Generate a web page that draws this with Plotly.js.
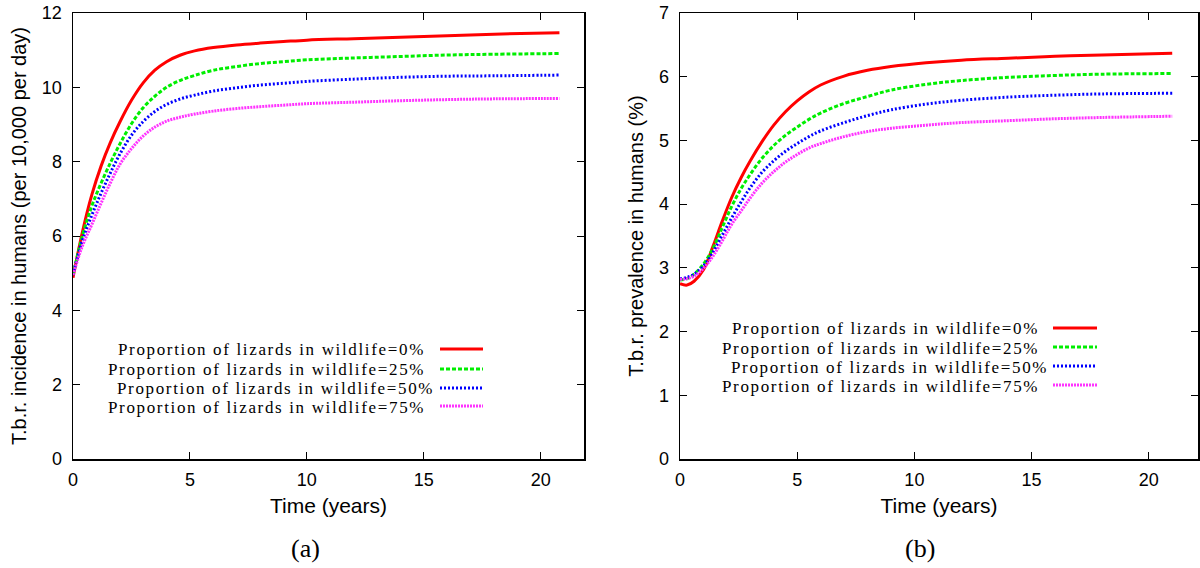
<!DOCTYPE html>
<html>
<head>
<meta charset="utf-8">
<script src="https://cdn.plot.ly/plotly-3.0.1.min.js"></script>
<style>
  html, body { margin: 0; padding: 0; background: #fff; }
  #chart { width: 1200px; height: 568px; }
  /* the serif key text is set a little wider, like the original typesetting */
  text.annotation-text { letter-spacing: 1.65px; }
</style>
</head>
<body>
<div id="chart"></div>
<script>
// Panel (a): tick-borne relapsing fever incidence in humans
const timeA = [0, 0.4, 0.8, 1.2, 1.6, 2.0, 2.5, 3.0, 3.5, 4.0, 4.6, 5.2, 6, 7, 8, 9, 10, 12, 14, 16, 18, 20.8];
const incidence0  = [4.88, 6.10, 7.10, 7.88, 8.52, 9.06, 9.65, 10.12, 10.46, 10.69, 10.87, 10.98, 11.07, 11.14, 11.19, 11.23, 11.27, 11.31, 11.35, 11.39, 11.43, 11.47];
const incidence25 = [4.95, 6.00, 6.80, 7.42, 7.97, 8.47, 9.02, 9.45, 9.76, 10.00, 10.19, 10.32, 10.46, 10.56, 10.64, 10.69, 10.74, 10.79, 10.83, 10.87, 10.89, 10.91];
const incidence50 = [4.95, 5.88, 6.55, 7.15, 7.70, 8.20, 8.71, 9.08, 9.35, 9.54, 9.69, 9.79, 9.90, 9.99, 10.06, 10.11, 10.16, 10.22, 10.27, 10.30, 10.31, 10.33];
const incidence75 = [4.95, 5.73, 6.30, 6.88, 7.43, 7.92, 8.35, 8.69, 8.93, 9.09, 9.20, 9.28, 9.36, 9.43, 9.48, 9.52, 9.56, 9.60, 9.64, 9.67, 9.69, 9.70];

// Panel (b): prevalence in humans (%)
const timeB = [0, 0.3, 0.6, 1.0, 1.4, 1.8, 2.2, 2.6, 3.0, 3.5, 4.0, 4.5, 5.0, 5.5, 6, 7, 8, 9, 10.5, 12, 14, 16, 18, 21];
const prevalence0  = [2.75, 2.73, 2.79, 2.97, 3.33, 3.73, 4.10, 4.41, 4.68, 4.98, 5.24, 5.45, 5.62, 5.76, 5.87, 6.01, 6.10, 6.16, 6.22, 6.26, 6.29, 6.32, 6.34, 6.37];
const prevalence25 = [2.81, 2.83, 2.90, 3.06, 3.30, 3.63, 3.96, 4.24, 4.47, 4.72, 4.92, 5.08, 5.21, 5.33, 5.43, 5.58, 5.69, 5.79, 5.88, 5.94, 5.99, 6.02, 6.04, 6.05];
const prevalence50 = [2.83, 2.85, 2.90, 3.03, 3.24, 3.51, 3.78, 4.03, 4.26, 4.50, 4.68, 4.83, 4.95, 5.06, 5.15, 5.28, 5.39, 5.48, 5.57, 5.63, 5.68, 5.71, 5.73, 5.74];
const prevalence75 = [2.82, 2.83, 2.87, 2.99, 3.18, 3.42, 3.68, 3.89, 4.10, 4.33, 4.51, 4.66, 4.78, 4.88, 4.95, 5.06, 5.14, 5.19, 5.24, 5.28, 5.31, 5.34, 5.36, 5.38];

const legendLabels = [
  'Proportion of lizards in wildlife=0%',
  'Proportion of lizards in wildlife=25%',
  'Proportion of lizards in wildlife=50%',
  'Proportion of lizards in wildlife=75%'
];
const captions = ['(a)', '(b)'];
const xTickVals = [0, 5, 10, 15, 20];
const yTickValsA = [0, 2, 4, 6, 8, 10, 12];
const yTickValsB = [0, 1, 2, 3, 4, 5, 6, 7];

// line styles for the four scenarios
const styles = [
  { color: '#ff0000', dash: 'solid' },
  { color: '#00ee00', dash: '4px,2px' },
  { color: '#0000ff', dash: '2px,2px' },
  { color: '#ff33ff', dash: '2px,1px' }
];
const LW = 3;

const seriesA = [incidence0, incidence25, incidence50, incidence75];
const seriesB = [prevalence0, prevalence25, prevalence50, prevalence75];

const traces = [];
seriesA.forEach((ys, i) => traces.push({
  x: timeA, y: ys, xaxis: 'x', yaxis: 'y', type: 'scatter', mode: 'lines',
  name: legendLabels[i], showlegend: false,
  line: { color: styles[i].color, dash: styles[i].dash, width: LW, shape: 'spline', smoothing: 1 }
}));
seriesB.forEach((ys, i) => traces.push({
  x: timeB, y: ys, xaxis: 'x2', yaxis: 'y2', type: 'scatter', mode: 'lines',
  name: legendLabels[i], showlegend: false,
  line: { color: styles[i].color, dash: styles[i].dash, width: LW, shape: 'spline', smoothing: 1 }
}));

const W = 1200, H = 568;
const px = v => v / W;
const py = v => 1 - v / H;

const sans = '"Liberation Sans", Arial, sans-serif';
const tickFont = { family: sans, size: 18, color: '#000' };
const xTitleFont = { family: sans, size: 21, color: '#000' };
const yTitleFont = { family: sans, size: 20, color: '#000' };
const serif = '"Liberation Serif", "Times New Roman", serif';

function axisBase(extra) {
  return Object.assign({
    showgrid: false, zeroline: false, showline: true, mirror: 'ticks',
    linecolor: '#000', linewidth: 1.5, ticks: 'inside', ticklen: 7,
    tickwidth: 1, tickcolor: '#000', tickfont: tickFont, fixedrange: true
  }, extra);
}

// hand-built key: text right-aligned with the line sample to its right
const annotations = [];
const shapes = [];
function addKey(rows, sampleX0, sampleX1) {
  rows.forEach((r, i) => {
    annotations.push({
      xref: 'paper', yref: 'paper', x: px(r.tx), y: py(r.y),
      xanchor: 'right', yanchor: 'middle', showarrow: false,
      text: legendLabels[i], font: { family: serif, size: 17, color: '#000' }
    });
    shapes.push({
      type: 'line', xref: 'paper', yref: 'paper',
      x0: px(sampleX0), x1: px(sampleX1), y0: py(r.ly), y1: py(r.ly),
      line: { color: styles[i].color, width: LW, dash: styles[i].dash }
    });
  });
}
addKey([
  { tx: 427, y: 349, ly: 349 },
  { tx: 427, y: 369, ly: 369 },
  { tx: 436, y: 388, ly: 388 },
  { tx: 427, y: 407, ly: 406 }
], 440, 483);
addKey([
  { tx: 1041, y: 328, ly: 328 },
  { tx: 1041, y: 348, ly: 347 },
  { tx: 1050, y: 367, ly: 366 },
  { tx: 1041, y: 386, ly: 385 }
], 1053, 1097);

// sub-figure captions (normal letter spacing)
const captionFont = { family: serif, size: 26, color: '#000' };
[[305, captions[0]], [920, captions[1]]].forEach(([cx, label]) => annotations.push({
  xref: 'paper', yref: 'paper', x: px(cx), y: py(548), xanchor: 'center', yanchor: 'middle',
  showarrow: false, text: '<span style="letter-spacing:0px">' + label + '</span>', font: captionFont
}));

const layout = {
  width: W, height: H,
  margin: { l: 0, r: 0, t: 0, b: 0 },
  paper_bgcolor: '#fff', plot_bgcolor: '#fff',
  showlegend: false,
  xaxis: axisBase({
    domain: [px(73), px(584)], range: [0, 21.85], anchor: 'y',
    tickvals: xTickVals, ticklabelstandoff: 4,
    title: { text: 'Time (years)', font: xTitleFont, standoff: 9 }
  }),
  yaxis: axisBase({
    domain: [py(459), py(13)], range: [0, 12], anchor: 'x',
    tickvals: yTickValsA, ticklabelstandoff: 6,
    title: { text: 'T.b.r. incidence in humans (per 10,000 per day)', font: yTitleFont, standoff: 10 }
  }),
  xaxis2: axisBase({
    domain: [px(680), px(1198)], range: [0, 22.1], anchor: 'y2',
    tickvals: xTickVals, ticklabelstandoff: 4,
    title: { text: 'Time (years)', font: xTitleFont, standoff: 9 }
  }),
  yaxis2: axisBase({
    domain: [py(459), py(13)], range: [0, 7], anchor: 'x2',
    tickvals: yTickValsB, ticklabelstandoff: 6,
    title: { text: 'T.b.r. prevalence in humans (%)', font: yTitleFont, standoff: 10 }
  }),
  annotations: annotations,
  shapes: shapes
};

Plotly.newPlot('chart', traces, layout, { displayModeBar: false, staticPlot: true });
</script>
</body>
</html>
